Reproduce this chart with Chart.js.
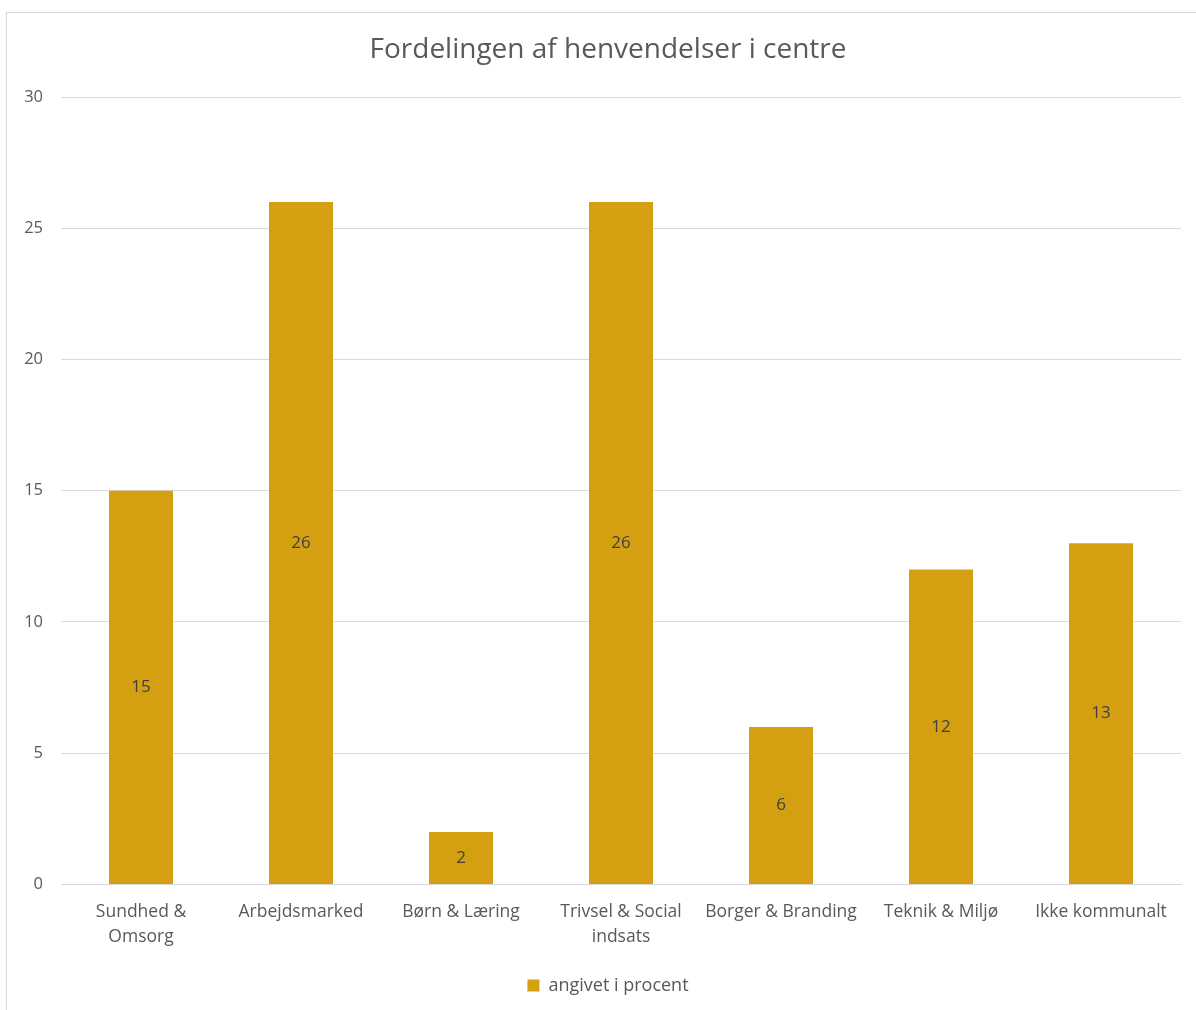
<!DOCTYPE html>
<html lang="da">
<head>
<meta charset="UTF-8">
<title>Fordelingen af henvendelser i centre</title>
<script src="https://cdn.jsdelivr.net/npm/chart.js@4.4.0/dist/chart.umd.min.js"></script>
<style>
  body { margin: 0; overflow: hidden; background: #fff; }
  .frame {
    position: absolute; left: 6px; top: 12px;
    width: 1220px; height: 1030px;
    border: 1px solid #d9d9d9;
  }
  .wrap { position: absolute; left: 0; top: 0; width: 1196px; height: 1010px; }
</style>
</head>
<body>
<div class="frame"></div>
<div class="wrap"><canvas id="chart"></canvas></div>
<script>
// data
var categories = [
  ["Sundhed &", "Omsorg"],
  "Arbejdsmarked",
  "Børn & Læring",
  ["Trivsel & Social", "indsats"],
  "Borger & Branding",
  "Teknik & Miljø",
  "Ikke kommunalt"
];
var values = [15, 26, 2, 26, 6, 12, 13];
var seriesName = "angivet i procent";
var yTicks = [0, 5, 10, 15, 20, 25, 30];

var gold = "#d4a012";
var textGray = "#595959";

// value labels in the middle of each bar + y tick labels (drawn unclipped)
var barLabels = {
  id: "barLabels",
  afterDatasetsDraw: function (chart) {
    var ctx = chart.ctx;
    var meta = chart.getDatasetMeta(0);
    ctx.save();
    ctx.font = "17px 'Open Sans'";
    ctx.fillStyle = "#404040";
    ctx.textAlign = "center";
    ctx.textBaseline = "middle";
    meta.data.forEach(function (bar, i) {
      ctx.fillText(values[i], bar.x, (bar.y + bar.base) / 2);
    });

    var y = chart.scales.y;
    ctx.font = "16.5px 'Open Sans'";
    ctx.fillStyle = textGray;
    ctx.textAlign = "right";
    yTicks.forEach(function (v) {
      ctx.fillText(v, chart.chartArea.left - 18, y.getPixelForValue(v));
    });
    ctx.restore();
  }
};

Chart.defaults.font.family = "'Open Sans', sans-serif";
Chart.defaults.color = textGray;

new Chart(document.getElementById("chart"), {
  type: "bar",
  data: {
    labels: categories,
    datasets: [{
      label: seriesName,
      data: values,
      backgroundColor: gold,
      barPercentage: 0.4,
      categoryPercentage: 1.0
    }]
  },
  options: {
    responsive: true,
    maintainAspectRatio: false,
    animation: false,
    layout: { padding: { left: 35, right: 15, top: 0, bottom: 5.5 } },
    plugins: {
      title: {
        display: true,
        text: "Fordelingen af henvendelser i centre",
        color: textGray,
        font: { size: 28, weight: "normal" },
        padding: { top: 33, bottom: 30.4 }
      },
      legend: {
        position: "bottom",
        labels: {
          boxWidth: 12,
          boxHeight: 12,
          color: textGray,
          font: { size: 18 },
          padding: 11
        }
      },
      tooltip: { enabled: false }
    },
    scales: {
      x: {
        grid: { display: false, drawTicks: false },
        border: { display: true, color: "#d9d9d9" },
        ticks: { color: textGray, font: { size: 17.5, lineHeight: 1.43 }, padding: 15.5, maxRotation: 0, autoSkip: false }
      },
      y: {
        min: 0,
        max: 30,
        afterBuildTicks: function (scale) {
          scale.ticks = yTicks.map(function (v) { return { value: v }; });
        },
        afterFit: function (scale) { scale.width = 26; },
        grid: { color: "#d9d9d9", drawTicks: false },
        border: { display: false },
        ticks: { display: false }
      }
    }
  },
  plugins: [barLabels]
});
</script>
</body>
</html>
